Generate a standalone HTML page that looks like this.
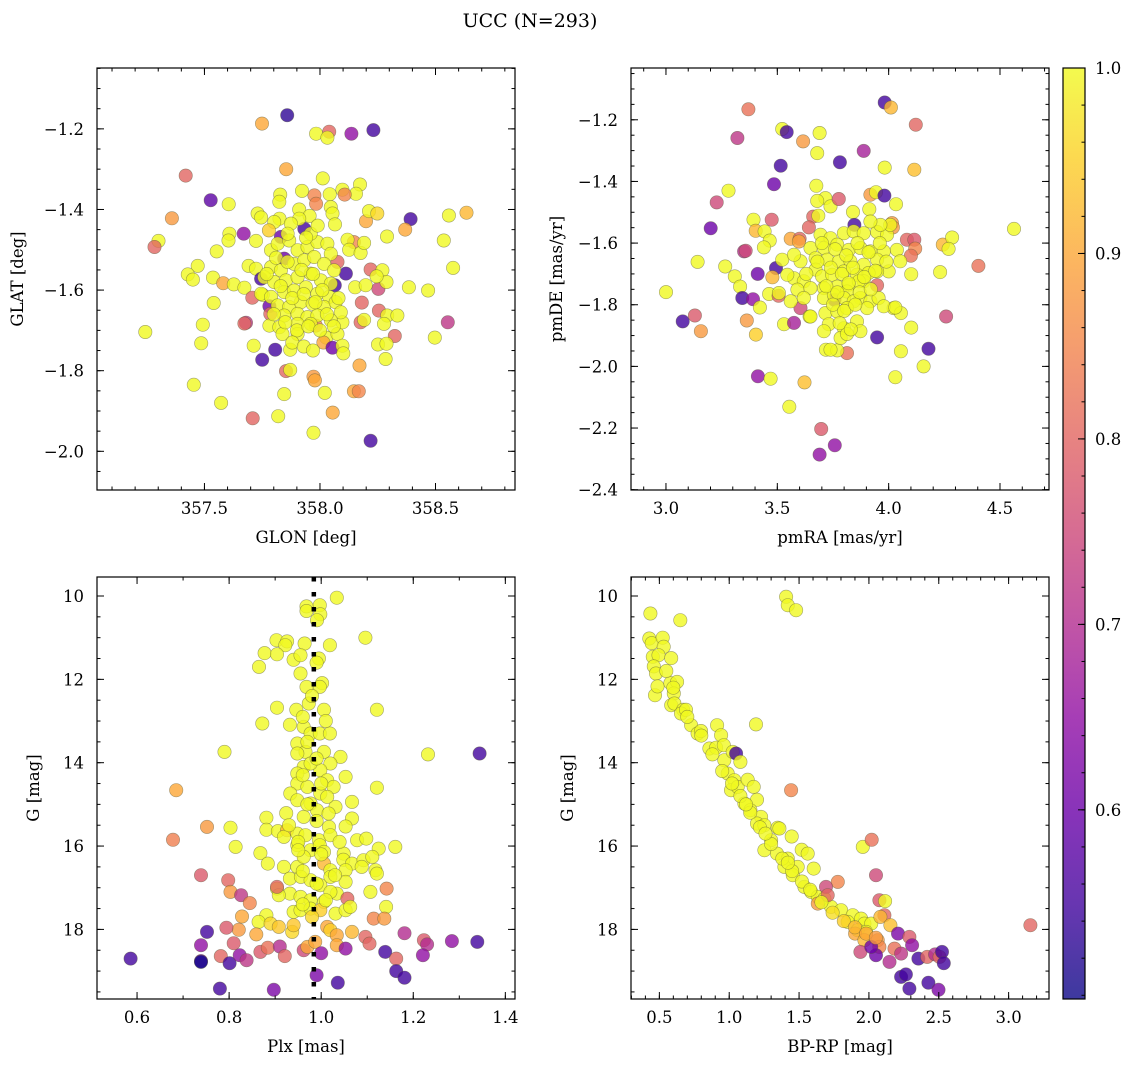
<!DOCTYPE html>
<html><head><meta charset="utf-8"><title>UCC (N=293)</title>
<style>
html,body{margin:0;padding:0;background:#fff;}
svg{display:block;font-family:"DejaVu Serif","Liberation Serif",serif;}
</style></head>
<body>
<svg id="fig" width="1136" height="1067" viewBox="0 0 1136 1067" xmlns="http://www.w3.org/2000/svg">
<defs><linearGradient id="cbgrad" x1="0" y1="1" x2="0" y2="0"></linearGradient></defs>
<text x="530" y="27" text-anchor="middle" font-size="19" fill="#000">UCC (N=293)</text>
</svg>
<script>
// ---------- data: GLON / GLAT ----------
const glonVals=[357.858,357.749,357.983,358.040,358.032,358.136,358.231,357.419,357.854,358.012,357.527,357.605,357.359,357.301,357.284,357.670,358.392,358.369,358.558,358.634,358.536,358.576,358.290,358.199,358.212,358.248,358.173,358.156,358.097,358.107,358.042,357.976,357.983,358.047,358.054,358.065,357.922,357.828,357.824,357.910,357.955,357.730,357.745,357.825,357.802,357.779,357.932,357.831,357.608,357.604,357.553,357.471,357.428,357.450,357.537,357.581,357.627,357.673,357.723,357.691,357.723,357.707,357.752,357.540,357.493,357.486,357.244,357.680,357.673,357.454,357.572,357.709,357.819,357.845,357.713,357.806,357.750,357.871,357.853,357.871,357.972,357.978,357.972,358.021,358.055,358.147,358.168,358.171,358.219,358.027,358.015,358.076,358.054,358.097,358.101,358.097,358.181,358.176,358.191,358.255,358.291,358.335,358.277,358.324,358.251,358.288,358.284,358.497,358.553,358.468,358.385,358.253,358.219,358.270,358.288,358.245,358.152,358.198,358.112,358.076,358.064,358.147,358.119,358.126,358.176,358.191,357.781,357.785,357.745,357.845,357.982,357.788,357.817,357.867,357.903,357.946,357.989,358.032,358.047,357.788,357.831,357.888,357.932,357.975,358.018,358.061,357.759,357.802,357.853,357.903,357.960,358.004,358.047,357.745,357.788,357.845,357.888,357.939,357.989,358.040,357.817,357.867,357.917,357.968,358.018,358.068,358.090,357.845,357.903,357.946,357.989,358.047,357.781,357.824,357.903,357.903,357.960,357.838,357.910,357.960,357.874,
357.81,357.86,357.92,357.97,358.01,357.83,357.88,357.93,357.98,358.03,357.80,357.85,357.90,357.95,358.00,357.88,357.93,357.97,357.77,357.94,357.99,357.86,358.08,358.06];
const glatVals=[-1.166,-1.187,-1.212,-1.207,-1.222,-1.212,-1.203,-1.316,-1.300,-1.323,-1.377,-1.387,-1.422,-1.478,-1.493,-1.460,-1.424,-1.450,-1.415,-1.408,-1.477,-1.545,-1.467,-1.429,-1.404,-1.410,-1.338,-1.361,-1.351,-1.363,-1.362,-1.365,-1.386,-1.394,-1.410,-1.437,-1.354,-1.363,-1.381,-1.400,-1.416,-1.410,-1.420,-1.423,-1.431,-1.452,-1.448,-1.468,-1.460,-1.477,-1.504,-1.540,-1.561,-1.574,-1.569,-1.583,-1.586,-1.594,-1.478,-1.540,-1.547,-1.619,-1.612,-1.632,-1.686,-1.732,-1.704,-1.681,-1.683,-1.835,-1.880,-1.918,-1.913,-1.858,-1.738,-1.748,-1.773,-1.748,-1.801,-1.798,-1.815,-1.824,-1.954,-1.855,-1.904,-1.851,-1.851,-1.787,-1.974,-1.718,-1.730,-1.709,-1.743,-1.738,-1.757,-1.680,-1.631,-1.680,-1.674,-1.651,-1.663,-1.663,-1.684,-1.714,-1.735,-1.733,-1.771,-1.718,-1.680,-1.601,-1.593,-1.597,-1.549,-1.551,-1.580,-1.566,-1.593,-1.588,-1.559,-1.530,-1.588,-1.481,-1.475,-1.500,-1.508,-1.483,-1.640,-1.659,-1.572,-1.522,-1.688,-1.501,-1.485,-1.477,-1.501,-1.493,-1.481,-1.485,-1.510,-1.543,-1.551,-1.535,-1.526,-1.518,-1.535,-1.551,-1.568,-1.580,-1.576,-1.568,-1.559,-1.576,-1.584,-1.609,-1.617,-1.605,-1.601,-1.593,-1.609,-1.617,-1.638,-1.642,-1.630,-1.634,-1.642,-1.630,-1.655,-1.663,-1.659,-1.667,-1.663,-1.675,-1.688,-1.692,-1.684,-1.709,-1.684,-1.709,-1.423,-1.460,-1.435,
-1.52,-1.53,-1.55,-1.56,-1.60,-1.59,-1.62,-1.61,-1.63,-1.66,-1.66,-1.68,-1.70,-1.69,-1.70,-1.73,-1.74,-1.75,-1.56,-1.47,-1.44,-1.46,-1.62,-1.69];
const probPos=[0.53,0.90,1,0.80,1,0.65,0.55,0.80,0.90,1,0.58,1,0.88,1,0.80,0.65,0.55,0.90,1,0.92,1,1,1,0.90,1,0.96,1,1,1,0.85,1,0.85,0.85,1,1,1,1,1,1,1,1,1,1,1,1,0.95,0.55,0.60,1,1,1,1,1,1,1,0.90,1,1,1,1,1,0.80,1,1,1,1,1,0.72,0.80,1,1,0.80,1,1,1,0.55,0.55,1,0.80,1,0.88,0.90,1,1,0.90,0.90,0.85,0.90,0.55,1,0.90,1,0.60,1,1,1,0.80,0.80,1,0.80,1,1,1,0.80,1,1,1,1,0.72,1,1,0.75,0.80,1,1,1,1,1,0.55,0.80,0.55,0.85,1,1,1,1,0.60,0.80,0.55,0.60,0.85,1,1,1,1,1,1,1,1,1,1,1,1,1,1,1,1,1,1,1,1,1,1,1,1,1,1,1,1,1,1,1,1,1,1,1,1,1,1,1,1,1,1,1,1,1,1,1,1,1,1,1,1,1,1,
1,1,1,1,1,1,1,1,1,1,1,1,1,1,1,1,1,1,1,1,1,1,1,1];

// ---------- data: pmRA / pmDE ----------
const pmraVals=[3.982,4.010,3.370,4.122,3.522,3.542,3.690,3.321,3.616,3.679,3.888,3.781,3.515,3.982,4.115,3.485,3.281,3.228,3.675,3.716,3.739,3.776,3.918,3.943,3.981,4.033,3.913,3.840,3.679,3.661,3.684,3.393,3.403,3.443,3.475,3.642,3.201,3.466,3.440,3.560,3.600,3.597,3.351,3.358,3.142,3.266,3.000,3.309,3.333,3.412,3.494,3.478,3.343,3.391,3.463,3.506,3.507,3.422,3.075,3.130,3.157,3.363,3.404,3.530,3.575,3.604,3.645,3.413,3.470,3.622,3.554,3.697,3.758,3.690,3.948,3.813,3.718,3.769,4.055,4.179,4.157,4.030,4.101,4.258,4.403,4.563,4.231,4.243,4.285,4.269,4.082,4.115,4.119,4.100,4.101,3.948,4.022,4.055,4.015,4.019,3.846,3.757,
3.694,3.739,3.799,3.843,3.888,3.948,3.993,4.007,3.963,3.918,3.649,3.709,3.769,3.821,3.873,3.918,3.978,4.037,4.052,3.604,3.672,3.724,3.776,3.828,3.888,3.948,4.000,3.948,3.575,3.619,3.672,3.701,3.746,3.799,3.858,3.910,3.888,3.590,3.649,3.709,3.769,3.821,3.866,3.873,3.918,3.813,3.560,3.619,3.709,3.754,3.799,3.843,3.903,3.955,3.978,4.030,3.649,3.716,3.769,3.813,3.858,3.731,3.799,3.873,3.709,3.784,3.813,3.739,3.545,3.522,3.575,
3.70,3.76,3.81,3.86,3.91,3.96,3.74,3.79,3.84,3.89,3.94,3.99,3.72,3.77,3.82,3.87,3.92,3.75,3.80,3.85,3.78,3.83,3.68,3.63];
const pmdeVals=[-1.144,-1.160,-1.166,-1.216,-1.230,-1.240,-1.243,-1.259,-1.270,-1.308,-1.301,-1.338,-1.349,-1.355,-1.362,-1.409,-1.430,-1.468,-1.414,-1.454,-1.481,-1.457,-1.443,-1.435,-1.446,-1.474,-1.490,-1.499,-1.463,-1.514,-1.511,-1.524,-1.560,-1.562,-1.524,-1.549,-1.552,-1.592,-1.614,-1.586,-1.586,-1.595,-1.627,-1.625,-1.661,-1.676,-1.759,-1.708,-1.741,-1.700,-1.681,-1.711,-1.778,-1.782,-1.765,-1.771,-1.762,-1.809,-1.854,-1.835,-1.886,-1.851,-1.897,-1.863,-1.859,-1.811,-1.838,-2.032,-2.040,-2.052,-2.131,-2.203,-2.256,-2.286,-1.906,-1.957,-1.946,-1.948,-1.951,-1.943,-2.000,-2.035,-1.874,-1.838,-1.674,-1.554,-1.694,-1.605,-1.582,-1.619,-1.589,-1.589,-1.618,-1.641,-1.701,-1.737,-1.811,-1.827,-1.535,-1.549,-1.541,-1.784,
-1.573,-1.584,-1.568,-1.562,-1.568,-1.564,-1.573,-1.541,-1.541,-1.530,-1.616,-1.616,-1.605,-1.622,-1.616,-1.627,-1.627,-1.622,-1.659,-1.659,-1.649,-1.654,-1.659,-1.659,-1.670,-1.654,-1.692,-1.692,-1.714,-1.724,-1.686,-1.708,-1.703,-1.692,-1.703,-1.697,-1.724,-1.751,-1.746,-1.746,-1.741,-1.735,-1.724,-1.778,-1.789,-1.757,-1.789,-1.778,-1.778,-1.768,-1.778,-1.789,-1.811,-1.778,-1.805,-1.809,-1.838,-1.827,-1.822,-1.811,-1.854,-1.863,-1.876,-1.886,-1.886,-1.908,-1.895,-1.946,-1.703,-1.654,-1.638,
-1.60,-1.62,-1.64,-1.60,-1.63,-1.60,-1.68,-1.70,-1.68,-1.71,-1.69,-1.66,-1.74,-1.76,-1.73,-1.76,-1.75,-1.80,-1.82,-1.80,-1.86,-1.88,-1.66,-1.70];
const probPm=[0.55,0.92,0.82,0.80,1,0.55,1,0.72,0.88,1,0.68,0.55,0.55,1,0.93,0.60,1,0.75,1,1,1,0.78,0.88,1,0.55,1,1,1,1,0.80,1,1,0.92,1,0.78,0.80,0.60,1,1,0.90,0.80,0.90,0.70,0.75,1,1,1,1,1,0.60,0.55,0.92,0.55,0.65,1,0.80,1,1,0.55,0.78,0.88,0.88,0.95,1,0.68,0.75,1,0.65,1,0.93,1,0.78,0.65,0.65,0.55,0.82,1,1,1,0.55,1,1,1,0.75,0.82,1,1,0.92,1,1,0.80,0.78,0.85,0.82,1,0.80,1,1,0.88,0.88,0.55,0.60,
1,1,1,1,1,1,1,1,1,1,1,1,1,1,1,1,1,1,1,1,1,1,1,1,1,1,1,1,1,1,1,1,1,1,1,1,1,1,1,1,1,1,1,1,1,1,1,1,1,1,1,1,1,1,1,1,1,1,1,1,1,1,1,1,1,1,1,1,1,1,1,
1,1,1,1,1,1,1,1,1,1,1,1,1,1,1,1,1,1,1,1,1,1,1,1];

// ---------- data: Plx / G ----------
const plxVals=[1.034,0.968,0.997,0.968,0.998,0.991,1.096,0.903,0.926,0.922,0.964,1.019,0.877,0.904,0.940,0.955,0.995,0.865,0.955,0.968,1.002,0.997,0.904,0.946,0.973,1.006,1.121,0.872,0.932,0.962,0.977,0.997,1.019,0.790,1.232,1.344,0.948,0.966,1.006,0.948,1.042,1.020,0.962,0.948,0.998,0.977,1.053,0.948,0.970,1.013,1.027,0.998,1.121,0.685,0.933,0.948,0.977,1.031,1.067,1.013,0.924,0.962,0.991,1.016,1.067,1.053,0.881,0.881,0.752,0.803,0.678,0.814,0.906,0.926,0.919,0.948,0.966,0.995,1.017,1.020,1.078,1.098,1.125,1.161,0.948,0.977,0.997,1.006,0.868,0.884,0.919,0.948,0.962,1.006,1.020,1.049,1.048,1.067,1.053,1.092,1.088,1.111,1.118,0.932,0.956,0.977,1.020,1.053,0.998,1.034,1.121,1.107,1.141,0.904,0.932,0.908,0.955,0.977,1.006,1.020,0.739,0.798,0.803,0.826,0.845,0.904,1.057,1.142,0.940,0.955,0.977,0.998,1.031,1.053,1.063,0.881,0.864,0.890,0.908,0.937,0.828,0.821,0.794,0.859,0.752,0.739,0.810,0.739,0.739,0.586,0.782,0.801,0.823,0.838,0.780,0.897,0.868,0.884,0.910,0.921,0.962,0.970,0.987,1.000,1.013,1.020,1.034,1.034,1.053,1.067,1.096,1.105,1.114,1.137,1.139,1.163,1.181,1.163,1.181,1.223,1.230,1.221,1.284,1.339,0.990,1.036,
0.97,0.99,0.96,1.00,0.97,0.99,0.95,1.00,0.96,0.99,1.01,0.96,0.98,0.94,0.98,0.96,0.99,1.01,0.95,1.03,0.93,1.04];
const gPlxVals=[10.04,10.25,10.22,10.36,10.44,10.58,11.00,11.06,11.09,11.18,11.14,11.18,11.37,11.40,11.53,11.42,11.50,11.70,11.86,12.18,12.09,12.18,12.68,12.73,12.58,12.73,12.73,13.06,13.09,13.14,13.30,13.30,13.30,13.74,13.80,13.78,13.54,13.74,13.74,13.78,13.86,14.02,14.10,14.26,14.18,14.02,14.34,14.50,14.58,14.42,14.58,14.74,14.60,14.66,14.74,14.90,14.98,15.06,14.94,14.82,15.21,15.30,15.14,15.22,15.34,15.53,15.32,15.61,15.54,15.56,15.85,16.02,15.64,15.62,15.78,15.70,15.74,15.86,15.54,15.74,15.86,15.82,16.06,16.02,15.98,16.10,15.98,16.14,16.17,16.42,16.50,16.50,16.26,16.42,16.58,16.18,16.33,16.42,16.58,16.34,16.50,16.26,16.58,16.78,16.74,16.82,16.74,16.86,16.94,17.14,16.66,17.10,17.46,17.02,17.14,17.18,17.22,17.30,17.34,17.10,16.70,16.82,17.10,17.18,17.37,16.98,17.26,17.02,17.58,17.54,17.50,17.54,17.62,17.54,17.46,17.66,17.82,17.86,17.94,18.06,17.69,18.01,17.96,18.12,18.06,18.38,18.33,18.76,18.78,18.70,18.64,18.81,18.62,18.74,19.42,19.45,18.54,18.44,18.41,18.64,18.50,18.42,18.30,18.57,17.94,18.02,18.14,18.38,18.46,18.06,18.18,18.34,17.74,17.74,18.54,18.70,18.09,19.00,19.16,18.26,18.36,18.62,18.28,18.30,19.10,19.28,
13.5,13.9,14.3,14.5,15.0,15.4,15.9,16.2,16.6,16.9,17.3,17.4,17.7,17.9,12.4,12.9,11.6,13.0,16.1,16.7,15.5,15.9];
const probPlx=[1,1,1,1,1,1,1,1,1,1,1,1,1,1,1,1,1,1,1,1,1,1,1,1,1,1,1,1,1,1,1,1,1,1,1,0.55,1,1,1,1,1,1,1,1,1,1,1,1,1,1,1,1,1,0.90,1,1,1,1,1,1,1,1,1,1,1,1,1,1,0.88,1,0.84,1,1,0.92,1,1,1,1,1,1,1,1,1,1,1,1,1,1,1,1,1,1,1,0.92,1,1,1,1,1,1,1,1,1,1,1,1,1,1,1,1,1,1,1,1,1,1,1,1,1,1,0.78,0.80,0.88,0.72,0.85,0.80,0.80,0.85,1,1,1,0.95,1,1,1,1,1,0.96,0.94,0.96,0.90,0.88,0.78,0.90,0.55,0.65,0.78,0.60,0.50,0.55,0.80,0.55,0.65,0.72,0.55,0.62,0.78,0.82,0.70,0.80,0.75,0.90,0.90,0.65,0.90,0.95,0.90,0.90,0.65,0.92,0.80,0.80,0.85,0.88,0.55,0.80,0.70,0.55,0.55,0.78,0.70,0.65,0.65,0.55,0.62,0.55,
1,1,1,1,1,1,1,1,1,1,1,1,0.96,0.94,1,1,1,1,1,1,1,1];
const plxRef=[0.984];

// ---------- data: BP-RP / G ----------
const bprpVals=[1.407,1.419,1.479,0.436,0.650,0.428,0.445,0.524,0.531,0.453,0.494,0.585,0.460,0.476,0.469,0.487,0.579,0.627,0.603,0.585,0.608,0.670,0.655,0.691,1.192,0.727,0.774,0.798,0.858,0.906,0.913,0.942,0.965,0.961,1.025,1.049,1.080,0.989,1.037,1.013,1.061,1.132,1.175,1.199,1.109,1.152,1.228,1.199,1.252,1.347,1.359,1.300,1.252,1.342,1.419,1.395,1.490,1.455,1.447,1.519,1.562,1.605,1.538,1.586,1.634,1.681,1.729,1.801,1.884,1.848,1.944,1.968,2.016,1.920,1.980,1.777,1.956,1.693,1.705,1.634,1.901,1.968,1.443,2.020,2.051,2.075,2.116,2.111,2.082,2.154,2.063,2.075,2.183,2.208,2.290,2.309,2.230,2.147,2.051,1.939,2.016,2.354,2.417,2.474,2.506,2.523,2.536,2.230,2.265,2.290,2.426,2.498,3.156,
0.55,0.60,0.70,0.80,0.88,0.95,1.02,1.08,1.15,1.22,1.30,1.38,1.45,1.52,1.58,1.66,1.74,1.82,1.90,1.98,2.05,1.12,1.26,1.42];
const gCmdVals=[10.02,10.22,10.34,10.42,10.58,11.02,11.13,11.00,11.22,11.46,11.42,11.49,11.69,11.86,12.38,12.17,12.09,12.06,12.34,12.62,12.58,12.73,12.82,12.73,13.08,13.10,13.30,13.24,13.66,13.64,13.10,13.34,13.94,13.58,13.74,13.78,13.98,14.26,14.42,14.66,14.58,14.41,14.58,14.89,14.98,15.14,15.30,15.46,15.50,15.56,15.58,15.86,16.10,16.18,16.30,16.50,16.50,16.70,15.77,16.09,16.18,16.54,16.98,17.10,17.22,17.26,17.46,17.54,17.66,17.82,17.74,17.86,17.86,18.02,18.06,16.86,16.02,16.98,17.18,17.38,18.10,18.26,14.66,15.85,16.70,17.30,17.32,17.66,17.70,17.90,18.26,18.42,18.46,18.10,18.18,18.38,18.58,18.78,18.62,18.54,18.42,18.70,18.66,18.60,18.66,18.54,18.81,19.14,19.08,19.42,19.28,19.45,17.90,
11.8,12.2,12.9,13.35,13.8,14.2,14.5,14.8,15.2,15.55,15.95,16.3,16.6,16.85,17.05,17.35,17.6,17.8,17.95,18.1,18.2,15.0,15.7,16.4];
const probCmd=[1,1,1,1,1,1,1,1,1,1,1,1,1,1,1,1,1,1,1,1,1,1,1,1,1,1,1,1,1,1,1,1,1,1,1,0.55,1,1,1,1,1,1,1,1,1,1,1,1,1,1,1,1,1,1,1,1,1,1,1,1,1,1,1,1,1,1,1,1,1,1,1,1,1,1,1,0.85,1,0.75,0.80,0.88,0.90,0.92,0.85,0.82,0.75,0.78,1,0.80,0.92,0.93,0.88,0.85,0.82,0.62,0.78,0.65,0.72,0.70,0.60,0.75,0.60,0.55,0.80,0.70,0.80,0.55,0.55,0.55,0.55,0.55,0.55,0.62,0.80,
1,1,1,1,1,1,1,1,1,1,1,1,1,1,1,1,0.97,0.95,0.92,0.90,0.88,1,1,1];

// ---------- colour scale ----------
const cbTicks=[0.6,0.7,0.8,0.9,1.0];
const cbMin=0.498, cbMax=1.0;
const plasma=[[13,8,135],[65,4,157],[106,0,168],[143,13,164],[177,42,144],[204,71,120],[225,100,98],[242,132,75],[252,166,54],[252,206,37],[240,249,33]];
function cmap(p){
  let t=(p-cbMin)/(cbMax-cbMin); t=Math.max(0,Math.min(1,t));
  const f=t*10, i=Math.min(9,Math.floor(f)), r=f-i;
  const a=plasma[i], b=plasma[i+1];
  return 'rgb('+a.map((v,k)=>Math.round(v+(b[k]-v)*r)).join(',')+')';
}

const NS='http://www.w3.org/2000/svg';
const svg=document.getElementById('fig');
function mk(tag,attrs,parent){const e=document.createElementNS(NS,tag);for(const k in attrs)e.setAttribute(k,attrs[k]);(parent||svg).appendChild(e);return e;}
function fmt(v,d){const s=Math.abs(v).toFixed(d);return (v<-1e-9?'\u2212':'')+s;}
function rng(a,b,s){const o=[];for(let v=Math.ceil(a/s-1e-6)*s;v<=b+1e-9;v+=s)o.push(Math.round(v/s)*s);return o;}

function panel(cfg){
  const g=mk('g',{});
  
  
  const {L,R,T,B,xd,yd}=cfg;
  const sx=v=>L+(v-xd[0])/(xd[1]-xd[0])*(R-L);
  const sy=v=>cfg.inv? T+(v-yd[0])/(yd[1]-yd[0])*(B-T) : B-(v-yd[0])/(yd[1]-yd[0])*(B-T);
  const clip=mk('clipPath',{id:cfg.name+'-clip'},g);
  mk('rect',{x:L,y:T,width:R-L,height:B-T},clip);
  const pts=mk('g',{'clip-path':'url(#'+cfg.name+'-clip)'},g);
  
  
  for(let i=0;i<cfg.xs.length;i++){
    const c=mk('circle',{cx:sx(cfg.xs[i]).toFixed(1),cy:sy(cfg.ys[i]).toFixed(1),r:6.7,fill:cmap(cfg.ps[i]),'fill-opacity':0.8,stroke:'#5a5a3a','stroke-opacity':0.55,'stroke-width':0.6},pts);
    
    
  }
  if(cfg.vline){
    for(const v of cfg.vline){
      const ln=mk('line',{x1:sx(v),x2:sx(v),y1:T,y2:B,stroke:'#000','stroke-width':4.5,'stroke-dasharray':'4.5 10.5'},g);
      
      
    }
  }
  const ax=mk('g',{stroke:'#000','stroke-width':1},g);
  
  
  for(const v of rng(xd[0],xd[1],cfg.xmin)){const x=sx(v);mk('line',{x1:x,x2:x,y1:B,y2:B-3.5},ax);mk('line',{x1:x,x2:x,y1:T,y2:T+3.5},ax);}
  for(const v of rng(yd[0],yd[1],cfg.ymin)){const y=sy(v);mk('line',{x1:L,x2:L+3.5,y1:y,y2:y},ax);mk('line',{x1:R,x2:R-3.5,y1:y,y2:y},ax);}
  for(const v of cfg.xt){const x=sx(v);mk('line',{x1:x,x2:x,y1:B,y2:B-7},ax);mk('line',{x1:x,x2:x,y1:T,y2:T+7},ax);
    const t=mk('text',{x:x,y:B+24,'text-anchor':'middle','font-size':16.5,fill:'#000',stroke:'none'},g);t.textContent=fmt(v,cfg.xd_dec);
    
    }
  for(const v of cfg.yt){const y=sy(v);mk('line',{x1:L,x2:L+7,y1:y,y2:y},ax);mk('line',{x1:R,x2:R-7,y1:y,y2:y},ax);
    const t=mk('text',{x:L-13,y:y+6,'text-anchor':'end','font-size':16.5,fill:'#000',stroke:'none'},g);t.textContent=fmt(v,cfg.yd_dec);
    
    }
  mk('rect',{x:L,y:T,width:R-L,height:B-T,fill:'none',stroke:'#000','stroke-width':1.2},g);
  const xl=mk('text',{x:(L+R)/2,y:B+53,'text-anchor':'middle','font-size':16.5,fill:'#000'},g);xl.textContent=cfg.xlab;
  
  
  const cy=(T+B)/2, cx=L-cfg.ylabOff;
  const yl=mk('text',{x:cx,y:cy,'text-anchor':'middle','font-size':16.5,fill:'#000',transform:'rotate(-90 '+cx+' '+cy+')'},g);yl.textContent=cfg.ylab;
  
  
}

panel({name:'glon-glat-panel',L:97,R:515,T:68,B:490,xd:[357.035,358.844],yd:[-2.096,-1.049],xs:glonVals,ys:glatVals,ps:probPos,
  xt:[357.5,358.0,358.5],yt:[-2.0,-1.8,-1.6,-1.4,-1.2],xmin:0.1,ymin:0.05,xd_dec:1,yd_dec:1,xlab:'GLON [deg]',ylab:'GLAT [deg]',ylabOff:74});
panel({name:'proper-motion-panel',L:631,R:1049,T:68,B:490,xd:[2.843,4.72],yd:[-2.401,-1.032],xs:pmraVals,ys:pmdeVals,ps:probPm,
  xt:[3.0,3.5,4.0,4.5],yt:[-2.4,-2.2,-2.0,-1.8,-1.6,-1.4,-1.2],xmin:0.1,ymin:0.05,xd_dec:1,yd_dec:1,xlab:'pmRA [mas/yr]',ylab:'pmDE [mas/yr]',ylabOff:69});
panel({name:'parallax-mag-panel',L:97,R:515,T:577,B:999,xd:[0.513,1.421],yd:[9.544,19.67],inv:true,xs:plxVals,ys:gPlxVals,ps:probPlx,vline:plxRef,
  xt:[0.6,0.8,1.0,1.2,1.4],yt:[10,12,14,16,18],xmin:0.1,ymin:0.5,xd_dec:1,yd_dec:0,xlab:'Plx [mas]',ylab:'G [mag]',ylabOff:58});
panel({name:'color-magnitude-panel',L:631,R:1049,T:577,B:999,xd:[0.297,3.289],yd:[9.544,19.67],inv:true,xs:bprpVals,ys:gCmdVals,ps:probCmd,
  xt:[0.5,1.0,1.5,2.0,2.5,3.0],yt:[10,12,14,16,18],xmin:0.1,ymin:0.5,xd_dec:1,yd_dec:0,xlab:'BP-RP [mag]',ylab:'G [mag]',ylabOff:58});

// ---------- colorbar ----------
const grad=document.getElementById('cbgrad');
for(let i=0;i<=10;i++){mk('stop',{offset:(i*10)+'%','stop-color':'rgb('+plasma[i].join(',')+')'},grad);}
const CL=1063,CR=1085,CT=68,CB=999;
const cbg=mk('g',{});


mk('rect',{x:CL,y:CT,width:CR-CL,height:CB-CT,fill:'url(#cbgrad)','fill-opacity':0.8},cbg);
mk('rect',{x:CL,y:CT,width:CR-CL,height:CB-CT,fill:'none',stroke:'#000','stroke-width':1.2},cbg);
const cy=v=>CB-(v-cbMin)/(cbMax-cbMin)*(CB-CT);
for(const v of rng(0.5,1.0,0.02)){const y=cy(v);mk('line',{x1:CR,x2:CR-3.5,y1:y,y2:y,stroke:'#000'},cbg);}
for(const v of cbTicks){const y=cy(v);mk('line',{x1:CR,x2:CR-7,y1:y,y2:y,stroke:'#000'},cbg);
  const t=mk('text',{x:CR+10,y:y+6,'font-size':16.5,fill:'#000'},cbg);t.textContent=v.toFixed(1);
  
  }
</script>
</body></html>
